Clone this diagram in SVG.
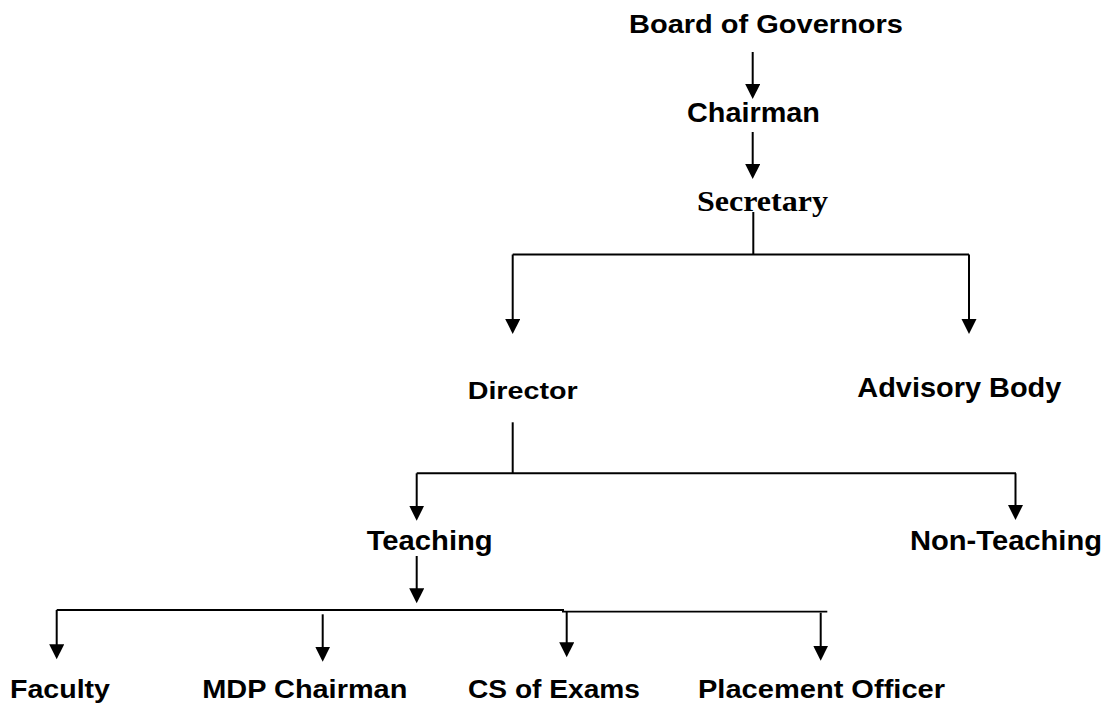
<svg xmlns="http://www.w3.org/2000/svg" width="1107" height="704" viewBox="0 0 1107 704">
<style>
.t{font-family:"Liberation Sans",Arial,sans-serif;font-weight:bold;fill:#000}
.s{font-family:"Liberation Serif","Times New Roman",serif;font-weight:bold;fill:#000}
.c{stroke:#000;stroke-width:2;fill:none}
.a{stroke:#000;stroke-width:2;fill:none;marker-end:url(#ah)}
</style>
<defs>
<marker id="ah" markerUnits="userSpaceOnUse" markerWidth="16" markerHeight="16" refX="12" refY="7.5" orient="auto">
<path d="M0,0 L15,7.5 L0,15 z" fill="#000"/>
</marker>
</defs>
<rect width="1107" height="704" fill="#fff"/>
<g id="connectors">
<line class="a" x1="752.7" y1="52" x2="752.7" y2="96"/>
<line class="a" x1="752.7" y1="132" x2="752.7" y2="176"/>
<line class="c" x1="753.3" y1="212" x2="753.3" y2="254.5"/>
<line class="c" x1="512.7" y1="254.5" x2="969" y2="254.5"/>
<line class="a" x1="512.7" y1="254.5" x2="512.7" y2="331"/>
<line class="a" x1="969" y1="254.5" x2="969" y2="331"/>
<line class="c" x1="512.7" y1="422.3" x2="512.7" y2="473.3"/>
<line class="c" x1="416.7" y1="473.3" x2="1016" y2="473.3"/>
<line class="a" x1="416.7" y1="473.3" x2="416.7" y2="517.7"/>
<line class="a" x1="1015.5" y1="473.3" x2="1015.5" y2="517"/>
<line class="a" x1="416.7" y1="556" x2="416.7" y2="600.3"/>
<line class="c" x1="56.7" y1="610" x2="564" y2="610" style="stroke-width:1.8"/>
<line class="c" x1="562" y1="611.7" x2="827.3" y2="611.7" style="stroke-width:1.8"/>
<line class="a" x1="56.7" y1="610" x2="56.7" y2="656.3"/>
<line class="a" x1="322.7" y1="614.3" x2="322.7" y2="658.7"/>
<line class="a" x1="566.7" y1="611" x2="566.7" y2="654.3"/>
<line class="a" x1="820.7" y1="612.7" x2="820.7" y2="657.7"/>
</g>
<g id="board"><text class="t" x="629" y="33.3" font-size="26" textLength="274" lengthAdjust="spacingAndGlyphs">Board of Governors</text></g>
<g id="chairman"><text class="t" x="687" y="121.7" font-size="27" textLength="133" lengthAdjust="spacingAndGlyphs">Chairman</text></g>
<g id="secretary"><text class="s" x="697" y="210.7" font-size="30" textLength="131" lengthAdjust="spacingAndGlyphs">Secretary</text></g>
<g id="director"><text class="t" x="467.7" y="399" font-size="24" textLength="110" lengthAdjust="spacingAndGlyphs">Director</text></g>
<g id="advisory"><text class="t" x="857.3" y="397.3" font-size="28" textLength="204" lengthAdjust="spacingAndGlyphs">Advisory Body</text></g>
<g id="teaching"><text class="t" x="366.7" y="550" font-size="28" textLength="126" lengthAdjust="spacingAndGlyphs">Teaching</text></g>
<g id="nonteaching"><text class="t" x="910" y="550" font-size="28" textLength="192" lengthAdjust="spacingAndGlyphs">Non-Teaching</text></g>
<g id="faculty"><text class="t" x="10" y="698" font-size="26" textLength="100" lengthAdjust="spacingAndGlyphs">Faculty</text></g>
<g id="mdp"><text class="t" x="202.3" y="698" font-size="26" textLength="205" lengthAdjust="spacingAndGlyphs">MDP Chairman</text></g>
<g id="cs"><text class="t" x="468" y="698" font-size="26" textLength="172" lengthAdjust="spacingAndGlyphs">CS of Exams</text></g>
<g id="placement"><text class="t" x="698" y="698" font-size="26" textLength="247" lengthAdjust="spacingAndGlyphs">Placement Officer</text></g>
</svg>
